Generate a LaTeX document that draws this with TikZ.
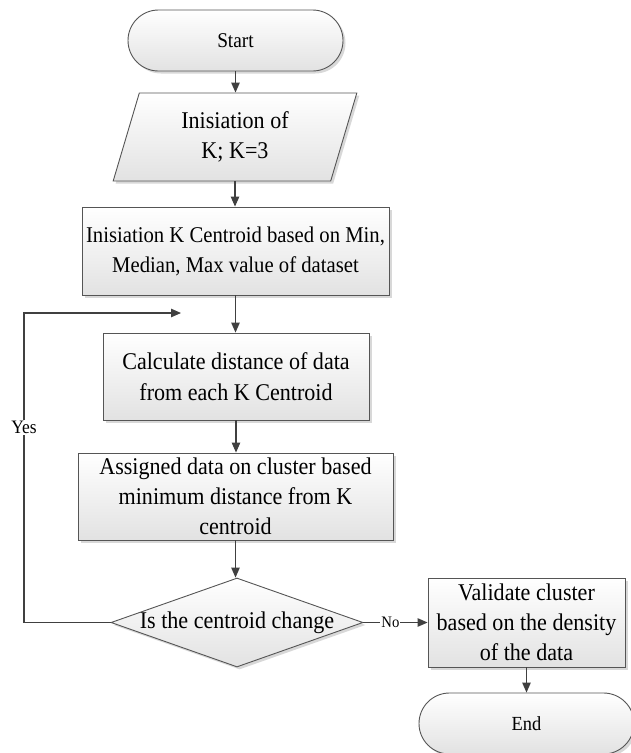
\documentclass[tikz,border=0pt]{standalone}
\usepackage{fontspec}
\setmainfont{Liberation Serif}[FakeStretch=0.92]
\usetikzlibrary{shapes.geometric,shapes.misc,arrows.meta,shadows}
\definecolor{edgec}{HTML}{555555}
\definecolor{linec}{HTML}{404040}
\definecolor{boxbot}{HTML}{E2E2E2}
\begin{document}
\begin{tikzpicture}[x=1pt,y=-1pt,
  base/.style={draw=edgec, line width=0.9pt, top color=white, bottom color=boxbot,
    drop shadow={shadow xshift=2.5pt, shadow yshift=-2.5pt, fill=black!30},
    inner sep=0pt, align=center, text=black},
  proc/.style={base, rectangle},
  term/.style={base, rounded rectangle},
  io/.style={base, trapezium, trapezium left angle=74, trapezium right angle=106, trapezium stretches=true},
  decide/.style={base, diamond},
  conn/.style={draw=linec, line width=1.1pt, -{Triangle[length=10pt,width=8.5pt]}},
  lbl/.style={fill=white, inner sep=1pt, text=black},
  big/.style={font=\fontsize{24}{30.5}\selectfont},
]
\useasboundingbox (0,0) rectangle (631,753);
\fill[white] (0,0) rectangle (631,753);

\node[term, minimum width=215pt, minimum height=61pt, font=\fontsize{21}{25}\selectfont] (start) at (235.5,40.5) {Start};
\node[io, minimum width=244pt, minimum height=88pt, big] (init) at (235,137) {Inisiation of\\K; K=3};
\node[proc, minimum width=307pt, minimum height=88pt, font=\fontsize{22.5}{30}\selectfont] (cent) at (235.5,251) {Inisiation K Centroid based on Min,\\Median, Max value of dataset};
\node[proc, minimum width=266pt, minimum height=87pt, big] (calc) at (236,376.5) {Calculate distance of data\\from each K Centroid};
\node[proc, minimum width=315pt, minimum height=87pt, font=\fontsize{24}{30}\selectfont] (assign) at (235.5,496.5) {Assigned data on cluster based\\minimum distance from K\\centroid};
\node[decide, minimum width=252pt, minimum height=89pt, big] (dec) at (237,622.5) {\makebox[0pt]{Is the centroid change}};
\node[proc, minimum width=197pt, minimum height=89pt, font=\fontsize{24}{30}\selectfont] (val) at (526.5,622.5) {Validate cluster\\based on the density\\of the data};
\node[term, minimum width=215pt, minimum height=61pt, font=\fontsize{20}{24}\selectfont] (end) at (526.5,723.5) {End};

\coordinate (c1) at (24,622.5);
\coordinate (c2) at (24,313);
\coordinate (fb) at (181,313);

\draw[conn] (start.south) -- (start.south |- init.north);
\draw[conn] (init.south) -- (init.south |- cent.north);
\draw[conn] (cent.south) -- (cent.south |- calc.north);
\draw[conn] (calc.south) -- (calc.south |- assign.north);
\draw[conn] (assign.south) -- (assign.south |- dec.north);
\draw[conn] (dec.east) -- node[lbl, pos=0.42, font=\fontsize{16}{18}\selectfont] {No} (val.west);
\draw[conn] (val.south) -- (end.north);
\draw[conn] (dec.west) -- (c1) -- node[lbl, pos=0.63, font=\fontsize{19}{22}\selectfont] {Yes} (c2) -- (fb);
\end{tikzpicture}
\end{document}
